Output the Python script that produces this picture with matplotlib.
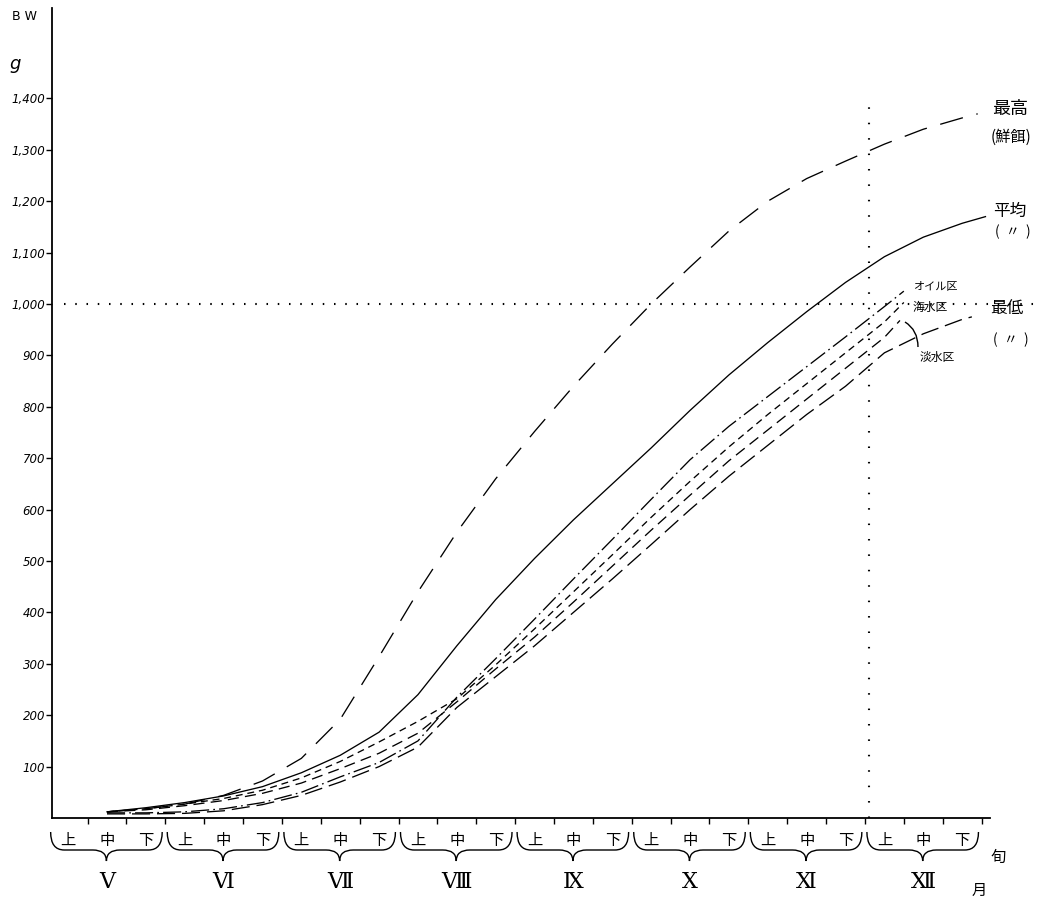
import matplotlib
matplotlib.use("Agg")
import matplotlib.pyplot as plt
from matplotlib.path import Path
from matplotlib.patches import PathPatch
import matplotlib.transforms as mtransforms

# ---- data: body weight (g) read at dekad positions (0 = start of May) ----
months = ["Ⅴ", "Ⅵ", "Ⅶ", "Ⅷ", "Ⅸ", "Ⅹ", "Ⅺ", "Ⅻ"]
dekads = ["上", "中", "下"]

max_x = [1.5, 2.5, 3.5, 4.5, 5.5, 6.5, 7.5, 8.5, 9.5, 10.5, 11.5, 12.5,
         13.5, 14.5, 15.5, 16.5, 17.5, 18.5, 19.5, 20.5, 21.5, 22.5, 23.5, 23.9]
max_y = [12, 18, 27, 44, 72, 116, 192, 314, 440, 556, 660, 752,
         840, 922, 1000, 1072, 1142, 1200, 1244, 1278, 1311, 1340, 1362, 1370]

mean_x = [1.5, 2.5, 3.5, 4.5, 5.5, 6.5, 7.5, 8.5, 9.5, 10.5, 11.5, 12.5,
          13.5, 14.5, 15.5, 16.5, 17.5, 18.5, 19.5, 20.5, 21.5, 22.5, 23.5, 24.1]
mean_y = [12, 20, 30, 43, 61, 88, 122, 167, 240, 335, 425, 505,
          580, 650, 720, 793, 862, 925, 985, 1042, 1092, 1130, 1157, 1170]

oil_x = [1.5, 2.5, 3.5, 4.5, 5.5, 6.5, 7.5, 8.5, 9.5, 10.5, 11.5, 12.5,
         13.5, 14.5, 15.5, 16.5, 17.5, 18.5, 19.5, 20.5, 21.5, 22.0]
oil_y = [10, 10, 12, 18, 30, 50, 80, 108, 150, 235, 310, 387,
         465, 542, 620, 697, 762, 820, 878, 936, 995, 1025]

sea_x = [1.5, 2.5, 3.5, 4.5, 5.5, 6.5, 7.5, 8.5, 9.5, 10.5, 11.5, 12.5,
         13.5, 14.5, 15.5, 16.5, 17.5, 18.5, 19.5, 20.5, 21.5, 22.0]
sea_y = [12, 18, 27, 38, 54, 78, 110, 148, 188, 232, 298, 368,
         440, 512, 585, 655, 722, 785, 845, 905, 965, 1003]

fresh_x = [1.5, 2.5, 3.5, 4.5, 5.5, 6.5, 7.5, 8.5, 9.5, 10.5, 11.5, 12.5,
           13.5, 14.5, 15.5, 16.5, 17.5, 18.5, 19.5, 20.5, 21.5, 21.9]
fresh_y = [12, 16, 24, 34, 48, 68, 96, 126, 165, 226, 290, 352,
           420, 490, 560, 628, 695, 755, 815, 875, 935, 968]

min_x = [1.5, 2.5, 3.5, 4.5, 5.5, 6.5, 7.5, 8.5, 9.5, 10.5, 11.5, 12.5,
         13.5, 14.5, 15.5, 16.5, 17.5, 18.5, 19.5, 20.5, 21.5, 22.5, 23.5, 23.75]
min_y = [8, 8, 9, 14, 26, 44, 70, 100, 138, 215, 275, 335,
         400, 465, 532, 600, 665, 725, 785, 840, 905, 942, 970, 975]

y_ticks = [100, 200, 300, 400, 500, 600, 700, 800, 900, 1000, 1100, 1200, 1300, 1400]
y_labels = ["100", "200", "300", "400", "500", "600", "700", "800", "900",
            "1,000", "1,100", "1,200", "1,300", "1,400"]

# ---- figure ----
W, H = 1053, 899
plt.rcParams["lines.scale_dashes"] = False
plt.rcParams["font.family"] = ["Noto Sans CJK JP", "DejaVu Sans"]
fig = plt.figure(figsize=(W / 100, H / 100), dpi=100)
fig.patch.set_facecolor("white")

def fx(px):
    return px / W

def fy(py):
    return 1 - py / H

X0, DX = 48.7, 38.87          # pixel of dekad 0 and pixels per dekad
ax = fig.add_axes([fx(52), fy(818), (990 - 52) / W, (818 - 8) / H])
ax.set_xlim((52 - X0) / DX, (990 - X0) / DX)
ax.set_ylim(0, 810 / 0.514)
ax.set_facecolor("white")

for s in ("top", "right"):
    ax.spines[s].set_visible(False)
for s in ("left", "bottom"):
    ax.spines[s].set_linewidth(1.3)
    ax.spines[s].set_color("black")

ax.set_yticks(y_ticks)
ax.set_yticklabels(y_labels, fontstyle="italic", fontsize=8.5,
                   family=["DejaVu Sans"])
ax.tick_params(axis="y", direction="out", length=4, width=1, pad=1)
ax.set_xticks(range(1, 25))
ax.set_xticklabels([])
ax.tick_params(axis="x", direction="out", length=4, width=1)

lw = 0.95
ax.plot(max_x, max_y, color="black", lw=lw, dashes=(17, 10))
ax.plot(mean_x, mean_y, color="black", lw=lw)
ax.plot(oil_x, oil_y, color="black", lw=lw, dashes=(13, 3, 1.2, 3))
ax.plot(sea_x, sea_y, color="black", lw=lw, dashes=(5, 3.5))
ax.plot(fresh_x, fresh_y, color="black", lw=lw, dashes=(8, 4.5))
ax.plot(min_x, min_y, color="black", lw=lw, dashes=(13, 5))

# reference dotted lines
ax.plot([0.4, 25.5], [1000, 1000], color="black", lw=1.5,
        dashes=(1.1, 7), clip_on=False)
ax.plot([21.1, 21.1], [0, 1395], color="black", lw=1.5,
        dashes=(1.1, 10), clip_on=False)

# axis unit labels
fig.text(fx(12), fy(16), "B W", fontsize=9, ha="left", va="center",
         family=["DejaVu Sans"])
fig.text(fx(9), fy(64), "g", fontsize=13, ha="left", va="center",
         fontstyle="italic", family=["DejaVu Sans"])

# dekad / month labels with braces
blend = mtransforms.blended_transform_factory(ax.transData, fig.transFigure)
for m, name in enumerate(months):
    for k, dk in enumerate(dekads):
        ax.text(3 * m + 0.5 + k, fy(840), dk, transform=blend, fontsize=11,
                ha="center", va="center")
    ax.text(3 * m + 1.5, fy(882), name, transform=blend, fontsize=16,
            ha="center", va="center", family=["DejaVu Serif", "Noto Sans CJK JP"])
    a, b = 3 * m + 0.05, 3 * m + 2.92
    c, w = (a + b) / 2, 0.35
    verts = [(a, fy(832)), (a, fy(850)), (a + w, fy(850)),
             (c - w, fy(850)), (c, fy(850)), (c, fy(861)),
             (c, fy(850)), (c + w, fy(850)),
             (b - w, fy(850)), (b, fy(850)), (b, fy(832))]
    codes = [Path.MOVETO, Path.CURVE3, Path.CURVE3,
             Path.LINETO, Path.CURVE3, Path.CURVE3,
             Path.CURVE3, Path.CURVE3,
             Path.LINETO, Path.CURVE3, Path.CURVE3]
    ax.add_patch(PathPatch(Path(verts, codes), transform=blend, fill=False,
                           lw=1.0, color="black", clip_on=False))

fig.text(fx(998), fy(857), "旬", fontsize=11, ha="center", va="center")
fig.text(fx(979), fy(890), "月", fontsize=11, ha="center", va="center")

# curve labels
fig.text(fx(992), fy(109), "最高", fontsize=13, ha="left", va="center")
fig.text(fx(991), fy(137), "(鮮餌)", fontsize=11, ha="left", va="center")
fig.text(fx(993), fy(211), "平均", fontsize=12, ha="left", va="center")
fig.text(fx(995), fy(232), "(  〃  )", fontsize=10, ha="left", va="center")
fig.text(fx(990), fy(309), "最低", fontsize=12, ha="left", va="center")
fig.text(fx(993), fy(340), "(  〃  )", fontsize=10, ha="left", va="center")
fig.text(fx(913), fy(287), "オイル区", fontsize=8, ha="left", va="center")
fig.text(fx(913), fy(307), "海水区", fontsize=8.5, ha="left", va="center")
fig.text(fx(920), fy(357), "淡水区", fontsize=8.5, ha="left", va="center")

# curved pointer to the fresh-water curve
lead = Path([(fx(905), fy(322)), (fx(918), fy(330)), (fx(918), fy(347))],
            [Path.MOVETO, Path.CURVE3, Path.CURVE3])
fig.patches.append(PathPatch(lead, transform=fig.transFigure, fill=False,
                             lw=1.0, color="black"))

fig.savefig("out.png", dpi=100, facecolor="white")
